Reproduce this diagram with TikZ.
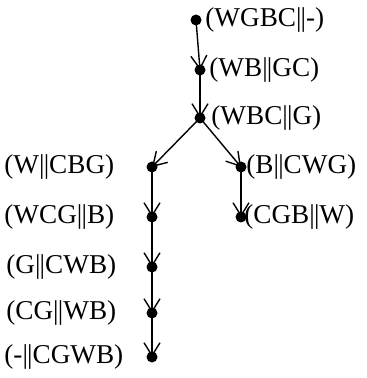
\documentclass[tikz,border=0pt]{standalone}
\usepackage{fontspec}
\setmainfont{Liberation Serif}
\usepackage{tikz}
\usetikzlibrary{arrows}
\usetikzlibrary{arrows.meta}
\newcommand{\bnk}{\textbar\kern-.03em\textbar}
\newcommand{\st}[2]{(#1\bnk#2)}
\tikzset{
  stdot/.style={circle,fill=black,inner sep=0pt,minimum size=5.5pt},
  stlbl/.style={inner sep=0pt,font=\fontsize{13.6}{16}\selectfont},
  mv/.style={line width=0.7pt,arrows=-{Straight Barb[length=6.5pt,width=8pt,line width=0.7pt]}}
}

\begin{document}
\begin{tikzpicture}[x=0.5pt,y=-0.5pt]
\useasboundingbox (0,0) rectangle (367,378);
\node[stdot] (a) at (196,20) {};
\node[stdot] (b) at (200,70) {};
\node[stdot] (c) at (200,118) {};
\node[stdot] (l1) at (152,167) {};
\node[stdot] (l2) at (152,217) {};
\node[stdot] (l3) at (152,267) {};
\node[stdot] (l4) at (152,313) {};
\node[stdot] (l5) at (152,357) {};
\node[stdot] (r1) at (241,167) {};
\node[stdot] (r2) at (241,217) {};
% labels
\node[stlbl,anchor=west] (ta) at ([xshift=4.5]a.center) {\st{WGBC}{-}};
\node[stlbl,anchor=west] (tb) at ([xshift=4.5]b.center) {\st{WB}{GC}};
\node[stlbl,anchor=west] (tc) at ([xshift=5.5]c.center) {\st{WBC}{G}};
\node[stlbl,anchor=west] (tr1) at ([xshift=2.5]r1.center) {\st{B}{CWG}};
\node[stlbl,anchor=west] (tr2) at ([xshift=1.5]r2.center) {\st{CGB}{W}};
\node[stlbl,anchor=west] (tl1) at (4,167) {\st{W}{CBG}};
\node[stlbl,anchor=west] (tl2) at (4,217) {\st{WCG}{B}};
\node[stlbl,anchor=west] (tl3) at (6,267) {\st{G}{CWB}};
\node[stlbl,anchor=west] (tl4) at (6,313) {\st{CG}{WB}};
\node[stlbl,anchor=west] (tl5) at (4,357) {\st{-}{CGWB}};
% moves
\path[mv] (a.center) edge (b.center)
          (b.center) edge (c.center)
          (c.center) edge (l1.center)
          (c.center) edge (r1.center)
          (r1.center) edge (r2.center)
          (l1.center) edge (l2.center)
          (l2.center) edge (l3.center)
          (l3.center) edge (l4.center)
          (l4.center) edge (l5.center);
\end{tikzpicture}
\end{document}
